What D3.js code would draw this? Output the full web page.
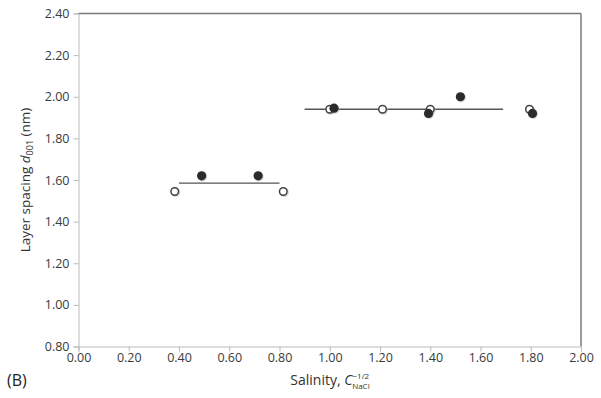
<!DOCTYPE html>
<html><head><meta charset="utf-8">
<script src="https://cdn.jsdelivr.net/npm/d3@7"></script>
<style>body{margin:0;background:#fff;}svg{display:block;}text{font-family:"Open Sans",sans-serif;}</style>
</head><body>
<script>
const xTicks = [0,0.2,0.4,0.6,0.8,1.0,1.2,1.4,1.6,1.8,2.0];
const yTicks = [0.8,1.0,1.2,1.4,1.6,1.8,2.0,2.2,2.4];
const openX = [0.383,0.815,1.00,1.21,1.40,1.795];
const openY = [1.545,1.545,1.94,1.94,1.94,1.94];
const filledX = [0.49,0.715,1.017,1.393,1.52,1.807];
const filledY = [1.62,1.62,1.945,1.92,2.00,1.92];
const lineX1 = [0.40,0.90];
const lineX2 = [0.80,1.69];
const lineY = [1.585,1.94];

const W=601,H=398;
const svg=d3.select("body").append("svg").attr("width",W).attr("height",H);
const x=d3.scaleLinear().domain([0,2]).range([78.5,581]);
const y=d3.scaleLinear().domain([0.8,2.4]).range([346.5,13.5]);

svg.append("line").attr("x1",x(0)).attr("x2",x(2)).attr("y1",y(2.4)).attr("y2",y(2.4)).attr("stroke","#777").attr("stroke-width",1.3);
svg.append("line").attr("x1",x(2)).attr("x2",x(2)).attr("y1",y(2.4)).attr("y2",y(0.8)).attr("stroke","#666").attr("stroke-width",1.3);

const xa=svg.append("g").attr("transform",`translate(0,${y(0.8)})`)
  .call(d3.axisBottom(x).tickValues(xTicks).tickFormat(d3.format(".2f")).tickSize(5).tickPadding(2));
const ya=svg.append("g").attr("transform",`translate(${x(0)},0)`)
  .call(d3.axisLeft(y).tickValues(yTicks).tickFormat(d3.format(".2f")).tickSize(5).tickPadding(4));
[xa,ya].forEach(a=>{
  a.select(".domain").attr("stroke","#bbb");
  a.selectAll(".tick line").attr("stroke","#bbb");
  a.selectAll(".tick text").attr("fill","#3a3a3a").style("font-size","12.5px").style("font-family","'Open Sans',sans-serif");
});

const segs=lineX1.map((d,i)=>({a:d,b:lineX2[i],v:lineY[i]}));
svg.selectAll(".seg").data(segs).enter().append("line")
  .attr("x1",d=>x(d.a)).attr("x2",d=>x(d.b)).attr("y1",d=>y(d.v)).attr("y2",d=>y(d.v))
  .attr("stroke","#555").attr("stroke-width",1.3);

const openPts=openX.map((d,i)=>[d,openY[i]]);
const filledPts=filledX.map((d,i)=>[d,filledY[i]]);
svg.selectAll(".sh").data(openPts.concat(filledPts)).enter().append("circle")
  .attr("cx",d=>x(d[0])+0.8).attr("cy",d=>y(d[1])+0.8).attr("r",4.8).attr("fill","#bbb").attr("opacity",0.6);
svg.selectAll(".op").data(openPts).enter().append("circle")
  .attr("cx",d=>x(d[0])).attr("cy",d=>y(d[1])).attr("r",3.8)
  .attr("fill","#fff").attr("stroke","#444").attr("stroke-width",1.5);
svg.selectAll(".fp").data(filledPts).enter().append("circle")
  .attr("cx",d=>x(d[0])).attr("cy",d=>y(d[1])).attr("r",4.6)
  .attr("fill","#2b2b2b");

const xl=svg.append("text").attr("x",330).attr("y",385).attr("text-anchor","middle")
  .attr("fill","#333").style("font-size","14px");
xl.append("tspan").text("Salinity, ");
xl.append("tspan").attr("font-style","italic").text("C");
xl.append("tspan").attr("dy",-6).style("font-size","8px").text("\u22121/2");
xl.append("tspan").attr("dx",-17).attr("dy",10).style("font-size","8px").text("NaCl");

const yl=svg.append("text").attr("transform",`translate(30,180) rotate(-90)`).attr("text-anchor","middle")
  .attr("fill","#333").style("font-size","13.5px");
yl.append("tspan").text("Layer spacing ");
yl.append("tspan").attr("font-style","italic").text("d");
yl.append("tspan").attr("dy",3).style("font-size","9px").text("001");
yl.append("tspan").attr("dy",-3).text(" (nm)");

svg.append("text").attr("x",7).attr("y",386).attr("fill","#222").style("font-size","16px").text("(B)");
</script>
</body></html>
